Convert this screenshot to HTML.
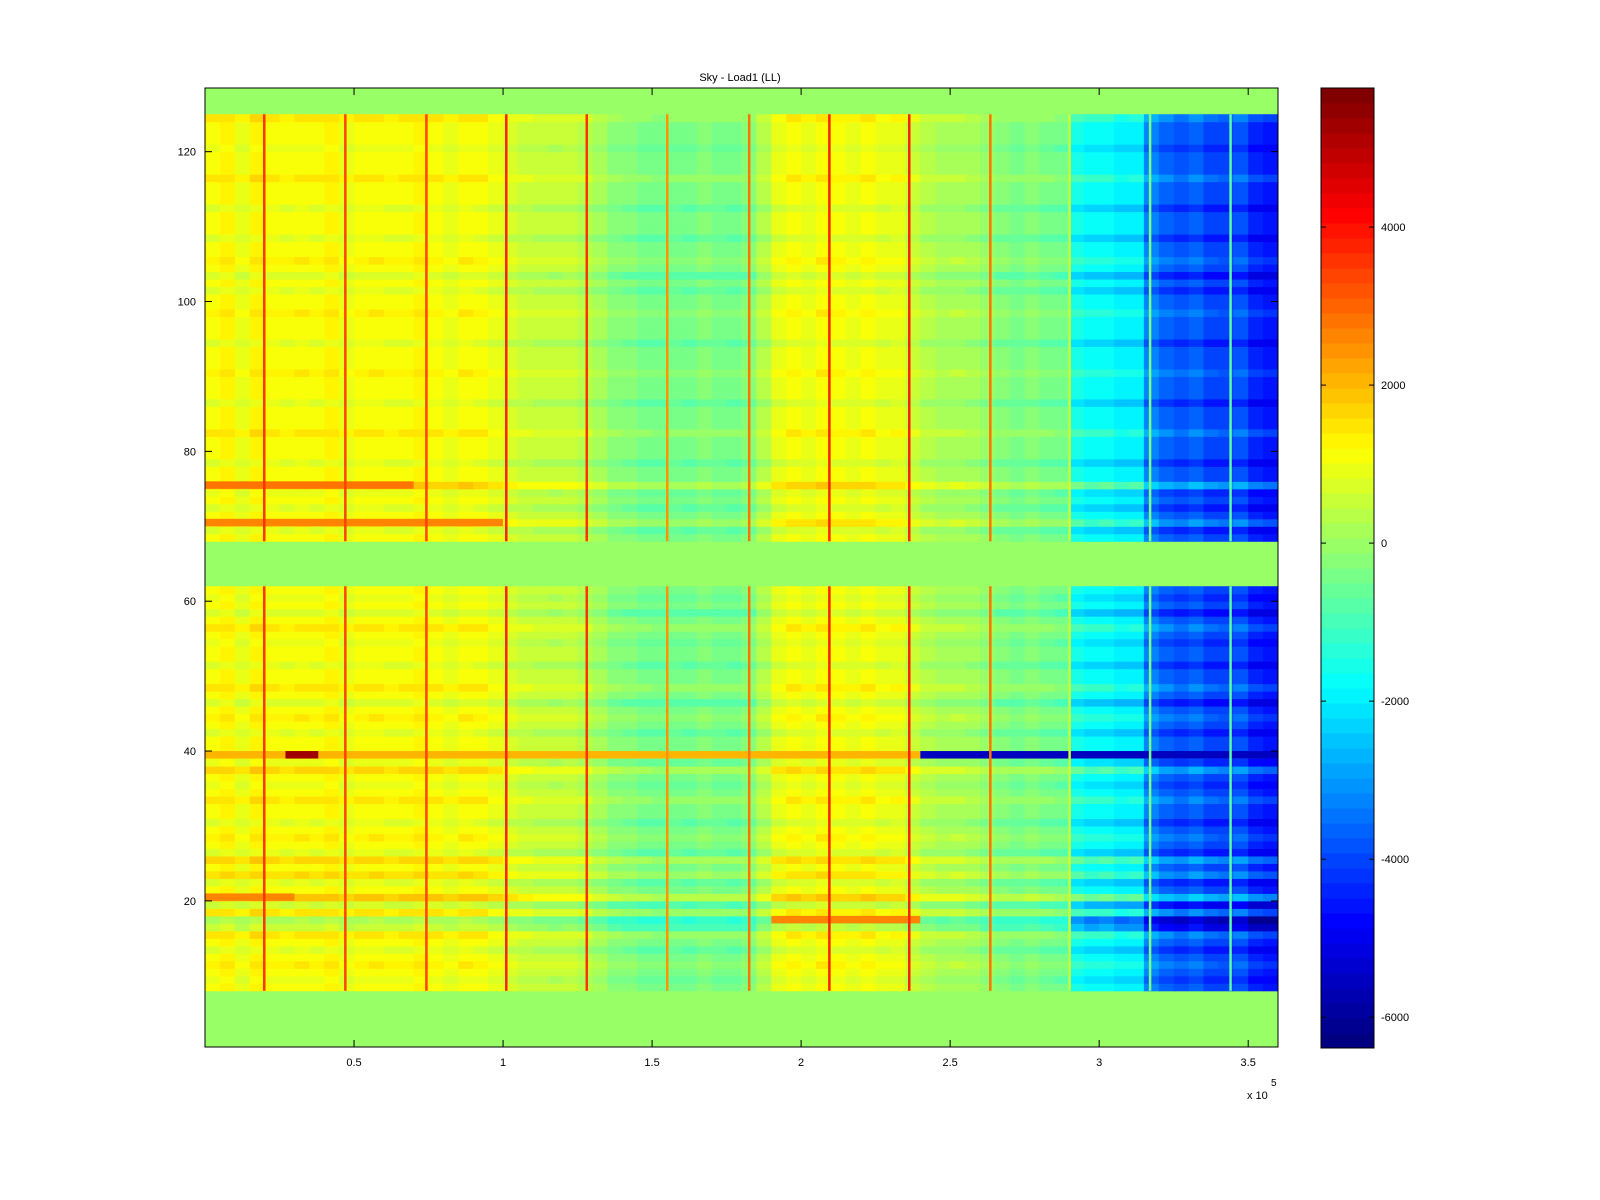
<!DOCTYPE html>
<html><head><meta charset="utf-8"><style>
html,body{margin:0;padding:0;background:#fff;}
svg{display:block;font-family:"Liberation Sans",sans-serif;}
</style></head><body>
<svg id="chart" width="1600" height="1200">
<rect width="1600" height="1200" fill="#fff"/>
<text x="740" y="81" font-size="11" text-anchor="middle">Sky - Load1 (LL)</text>
<g id="cells"></g>
<g id="special"></g>
<g id="spikes"></g>
<rect x="205" y="88" width="1073" height="959" fill="none" stroke="#000" stroke-width="1"/>
<g id="axes"></g>
<g id="cbar"></g>
</svg>
<script>
// ---- data ----
const xBinWidth = 5000;
const colProfile = [1100,1250,1000,1300,1150,1050,1200,1100,1250,1000,1150,1200,1050,1100,1250,1150,1000,1200,1100,900,
 700,600,500,450,500,350,100,-200,-300,-400,-450,-350,-400,-300,-350,-400,-300,300,
 900,1100,1000,1200,1050,1000,1100,900,950,600,
 300,200,250,100,-100,-300,-350,-250,-400,-500,
 -1500,-1800,-1700,-2000,-1900,
 -3300,-3700,-3900,-3600,-4000,-4100,-3800,-4400,-4500];
const rowMin = 1, rowMax = 128;
const dataRows = [[8,61],[68,124]];
const rowOffset = {9:-200,11:200,13:-300,15:300,16:-600,17:-900,18:300,19:-500,20:700,22:-300,23:400,25:500,26:-300,28:200,30:-300,33:300,35:-200,37:500,38:-200,
 42:-300,44:200,46:-400,48:300,51:-300,54:-200,56:300,58:-400,60:-200,
 69:-300,70:400,72:-300,74:-200,75:600,78:-300,82:300,86:-300,90:200,94:-300,98:200,101:-300,103:-400,105:200,108:-300,112:-300,116:300,120:-200,124:300};
const spikeX = [19800,47000,74200,101000,128000,155000,182500,209400,236200,263400,290000,317000,344000];
const spikeVal = [3600,3300,3300,3700,3600,2400,2800,3800,3700,2800,600,-500,-800];
const specialRows = [39,39,39,75,70,17,20];
const specialX0 = [0,27000,240000,0,0,190000,0];
const specialX1 = [240000,38000,360000,70000,100000,240000,30000];
const specialVal = [2000,5200,-5500,2800,2600,2600,2600];
const cbarTicks = [4000,2000,0,-2000,-4000,-6000];
const xTicks = [0.5,1,1.5,2,2.5,3,3.5];
const yTicks = [20,40,60,80,100,120];
const cmin = -6390, cmax = 5760;

// ---- scales ----
const px0=205, px1=1278, py0=88, py1=1047;
const xMax = 360000;
const sx = v => px0 + v/xMax*(px1-px0);
const sy = r => py1 - (r-0.5)/(rowMax)*(py1-py0);
function jet(t){
  const c=x=>Math.max(0,Math.min(1,x));
  const r=c(1.5-Math.abs(4*t-3)),g=c(1.5-Math.abs(4*t-2)),b=c(1.5-Math.abs(4*t-1));
  return `rgb(${Math.round(r*255)},${Math.round(g*255)},${Math.round(b*255)})`;
}
function col(v){let i=Math.floor((v-cmin)/(cmax-cmin)*64);i=Math.max(0,Math.min(63,i));return jet(i/63);}
const NS='http://www.w3.org/2000/svg';
function mk(tag,attrs,parent){const e=document.createElementNS(NS,tag);for(const k in attrs)e.setAttribute(k,attrs[k]);parent.appendChild(e);return e;}
const rowH=(py1-py0)/rowMax;
const isData=r=>dataRows.some(d=>r>=d[0]&&r<=d[1]);

const cells=document.getElementById('cells');
const bg=mk('rect',{x:px0,y:py0,width:px1-px0,height:py1-py0,fill:col(0)},cells);


for(let r=rowMin;r<=rowMax;r++){
  if(!isData(r))continue;
  const off=rowOffset[r]||0;
  for(let c=0;c<colProfile.length;c++){
    const x0=sx(c*xBinWidth),x1=sx((c+1)*xBinWidth);
    const v=colProfile[c]+off*(colProfile[c]<-1000?1.8:1);
    const e=mk('rect',{x:x0,y:sy(r)-rowH,width:x1-x0+0.5,height:rowH+0.5,fill:col(v)},cells);
    
    
  }
}
const sp=document.getElementById('special');
specialRows.forEach((r,i)=>{
  const e=mk('rect',{x:sx(specialX0[i]),y:sy(r)-rowH,width:sx(specialX1[i])-sx(specialX0[i]),height:rowH,fill:col(specialVal[i])},sp);
  
  
});
const sk=document.getElementById('spikes');
spikeX.forEach((x,i)=>{
  dataRows.forEach(d=>{
    const e=mk('rect',{x:sx(x)-1,y:sy(d[1])-rowH,width:2.5,height:(d[1]-d[0]+1)*rowH,fill:col(spikeVal[i])},sk);
    
    
  });
});
const ax=document.getElementById('axes');
xTicks.forEach(t=>{
  const x=sx(t*1e5);
  mk('line',{x1:x,y1:py1,x2:x,y2:py1-7,stroke:'#000'},ax);
  mk('line',{x1:x,y1:py0,x2:x,y2:py0+7,stroke:'#000'},ax);
  const tx=mk('text',{x:x,y:1066,'font-size':11,'text-anchor':'middle'},ax);
  tx.textContent=String(t);
  
  
});
yTicks.forEach(t=>{
  const y=py1-(t-0.5)/rowMax*(py1-py0);
  mk('line',{x1:px0,y1:y,x2:px0+7,y2:y,stroke:'#000'},ax);
  mk('line',{x1:px1,y1:y,x2:px1-7,y2:y,stroke:'#000'},ax);
  const tx=mk('text',{x:196,y:y+4,'font-size':11,'text-anchor':'end'},ax);
  tx.textContent=String(t);
  
  
});
const ex=mk('text',{x:1247,y:1099,'font-size':11},ax);ex.textContent='x 10';


const ex2=mk('text',{x:1271,y:1086,'font-size':10},ax);ex2.textContent='5';


const cb=document.getElementById('cbar');
const cx0=1321,cx1=1374,cy0=88,cy1=1048;
for(let i=0;i<64;i++){
  const h=(cy1-cy0)/64;
  const e=mk('rect',{x:cx0,y:cy1-(i+1)*h,width:cx1-cx0,height:h+0.5,fill:jet(i/63)},cb);
  
  
}
mk('rect',{x:cx0,y:cy0,width:cx1-cx0,height:cy1-cy0,fill:'none',stroke:'#000'},cb);
cbarTicks.forEach(t=>{
  const y=cy1-(t-cmin)/(cmax-cmin)*(cy1-cy0);
  mk('line',{x1:cx0,y1:y,x2:cx0+5,y2:y,stroke:'#000'},cb);
  mk('line',{x1:cx1,y1:y,x2:cx1-5,y2:y,stroke:'#000'},cb);
  const tx=mk('text',{x:1381,y:y+4,'font-size':11},cb);
  tx.textContent=String(t);
  
  
});
</script>
</body></html>
